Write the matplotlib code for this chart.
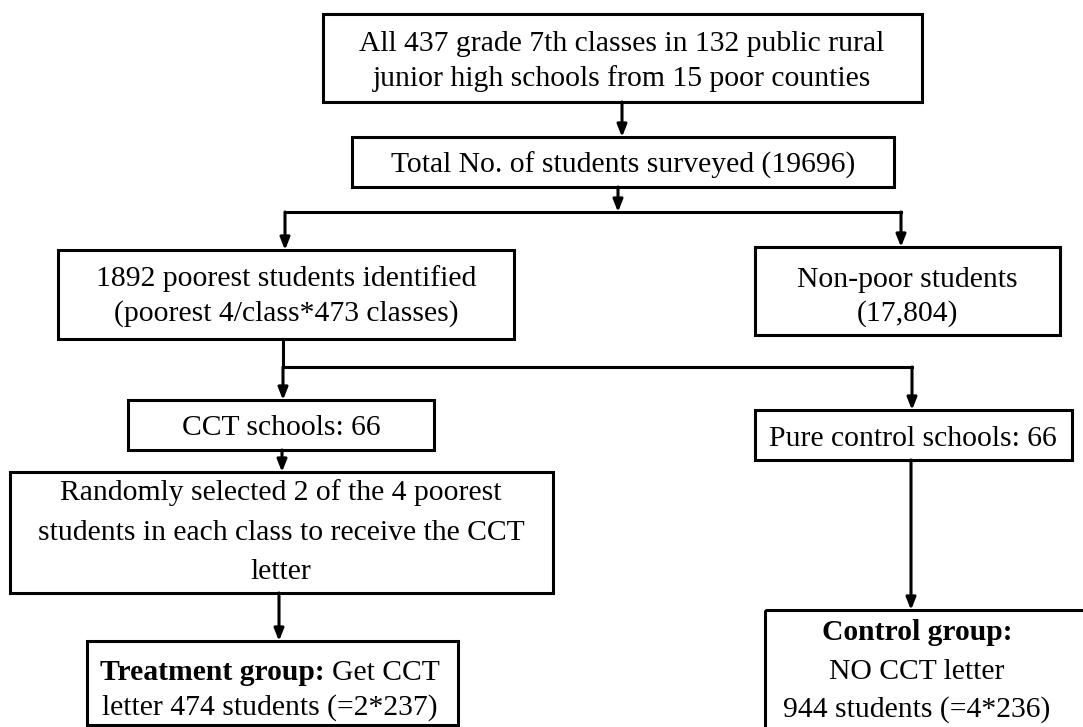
import matplotlib
matplotlib.use("Agg")
import matplotlib.pyplot as plt
from matplotlib.patches import Rectangle

plt.rcParams['font.family'] = ['Liberation Serif', 'DejaVu Serif']

# text of every box, one entry per line; a line is a list of (text, weight) pieces
top_text = [[("All 437 grade 7th classes in 132 public rural", "normal")],
            [("junior high schools from 15 poor counties", "normal")]]
total_text = [[("Total No. of students surveyed (19696)", "normal")]]
poor_text = [[("1892 poorest students identified", "normal")],
             [("(poorest 4/class*473 classes)", "normal")]]
nonpoor_text = [[("Non-poor students", "normal")],
                [("(17,804)", "normal")]]
cct_text = [[("CCT schools: 66", "normal")]]
pure_text = [[("Pure control schools: 66", "normal")]]
random_text = [[("Randomly selected 2 of the 4 poorest", "normal")],
               [("students in each class to receive the CCT", "normal")],
               [("letter", "normal")]]
treat_text = [[("Treatment group:", "bold"), ("Get CCT", "normal")],
              [("letter 474 students (=2*237)", "normal")]]
control_text = [[("Control group:", "bold")],
                [("NO CCT letter", "normal")],
                [("944 students (=4*236)", "normal")]]

# layout in pixels: box edges (left, right, top, bottom), text centre x, line centres y
boxes = [
    (top_text, (323, 922, 14, 102), 622, [44, 79]),
    (total_text, (352, 894, 137, 187), 623, [165]),
    (poor_text, (58, 514, 250, 339), 286, [279, 314]),
    (nonpoor_text, (755, 1060, 247, 335), 907, [280, 314]),
    (cct_text, (128, 434, 400, 450), 281, [428]),
    (pure_text, (755, 1072, 410, 460), 913, [439]),
    (random_text, (10, 553, 472, 593), 281, [493, 533, 572]),
    (treat_text, (87, 458, 641, 725), 270, [673, 708]),
    (control_text, (765, 1100, 610, 760), 917, [633, 672, 710]),
]

# connectors: plain lines and arrows (x0, y0, x1, y1)
lines = [(285, 212, 901, 212), (283, 339, 283, 367), (283, 367, 912, 367)]
arrows = [(622, 102, 622, 137), (618, 187, 618, 212), (285, 212, 285, 250),
          (901, 212, 901, 247), (283, 367, 283, 400), (912, 367, 912, 410),
          (282, 450, 282, 472), (279, 593, 279, 641), (911, 460, 911, 610)]

W, H = 1083, 727
fig = plt.figure(figsize=(W / 100, H / 100), dpi=100)
ax = fig.add_axes([0, 0, 1, 1])
ax.set_xlim(0, W)
ax.set_ylim(H, 0)
ax.axis('off')

FS = 21.3
LW = 2.2
renderer = fig.canvas.get_renderer()


def draw_line(x, y, pieces):
    # place pieces side by side, whole line centred on x
    texts = [ax.text(0, y, s, fontsize=FS, fontweight=w, ha='left', va='center')
             for s, w in pieces]
    widths = [t.get_window_extent(renderer).width for t in texts]
    gap = 0.25 * FS * 100 / 72
    total = sum(widths) + gap * (len(texts) - 1)
    x0 = x - total / 2
    for t, wd in zip(texts, widths):
        t.set_x(x0)
        x0 += wd + gap


for text, (x0, x1, y0, y1), tx, ys in boxes:
    ax.add_patch(Rectangle((x0, y0), x1 - x0, y1 - y0, fill=False,
                           lw=LW, ec='black', joinstyle='miter'))
    for y, pieces in zip(ys, text):
        draw_line(tx, y, pieces)

for x0, y0, x1, y1 in lines:
    ax.plot([x0, x1], [y0, y1], color='black', lw=LW, solid_capstyle='projecting')

for x0, y0, x1, y1 in arrows:
    ax.annotate("", xy=(x1, y1), xytext=(x0, y0),
                arrowprops=dict(arrowstyle='-|>,head_length=0.5,head_width=0.2',
                                mutation_scale=14.4, lw=LW, color='black',
                                shrinkA=0, shrinkB=0))

fig.savefig("out.png", dpi=100)
